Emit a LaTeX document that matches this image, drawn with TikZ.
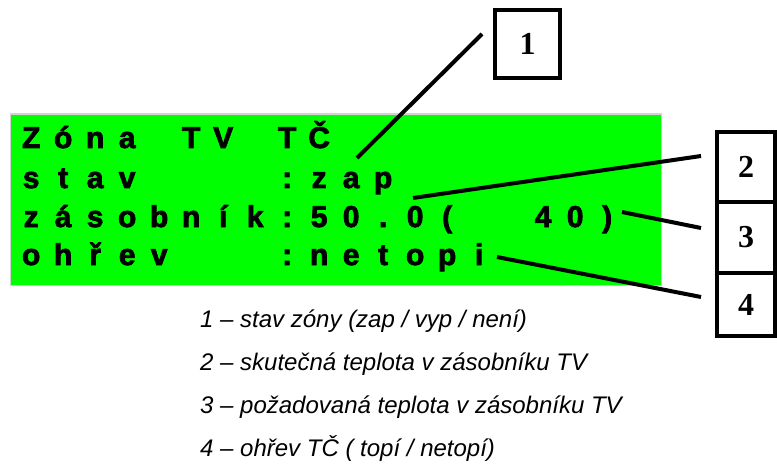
\documentclass[tikz,border=0pt]{standalone}
\usepackage{fontspec}
\setmainfont{Liberation Serif}
\newfontfamily\lcdfont{Liberation Sans}[FakeBold=2.5]
\newfontfamily\legfont{Liberation Sans}
\definecolor{lcdgreen}{RGB}{0,255,0}
\def\lcdrow#1{\lcdloop#1\relax}
\def\lcdloop#1{\ifx#1\relax\else\makebox[32pt]{#1}\expandafter\lcdloop\fi}
\begin{document}
\begin{tikzpicture}[x=1pt,y=-1pt,
  lcdtext/.style={anchor=base west,inner sep=0pt,font=\lcdfont\fontsize{30}{30}\selectfont\bfseries},
  numbox/.style={draw,line width=4pt,inner sep=0pt,font=\fontsize{32}{32}\selectfont\bfseries},
  pointer/.style={line width=4pt},
  legend/.style={anchor=base west,inner sep=0pt,font=\legfont\fontsize{24}{24}\selectfont\itshape}]
\useasboundingbox (0,0) rectangle (777,468);
\fill[white] (0,0) rectangle (777,468);
% display
\node[draw=gray!35,line width=1.2pt,fill=lcdgreen,minimum width=651,minimum height=171,inner sep=0pt,anchor=north west] (lcd) at (10,113.5) {};
\node[lcdtext] (r1) at (15,148) {\lcdrow{Zóna~TV~TČ}};
\node[lcdtext] (r2) at (15,188) {\lcdrow{stav~~~~:zap}};
\node[lcdtext] (r3) at (15,227) {\lcdrow{zásobník:50.0(~~40)}};
\node[lcdtext] (r4) at (15,265) {\lcdrow{ohřev~~~:netopi}};
% number boxes
\node[numbox,minimum width=65,minimum height=68] (b1) at (527.5,44) {1};
\node[numbox,minimum width=58,minimum height=70] (b2) at (746,167) {2};
\node[numbox,minimum width=58,minimum height=71] (b3) at (746,237.5) {3};
\node[numbox,minimum width=58,minimum height=63] (b4) at (746,304.5) {4};
% pointer ends
\coordinate (p1a) at (357,158);
\coordinate (p1b) at (482,34);
\coordinate (p2a) at (413,198);
\coordinate (p2b) at (701,156);
\coordinate (p3a) at (622,212);
\coordinate (p3b) at (701,228);
\coordinate (p4a) at (497,257);
\coordinate (p4b) at (701,297);
\draw[pointer] (p1a) -- (p1b);
\draw[pointer] (p2a) -- (p2b);
\draw[pointer] (p3a) -- (p3b);
\draw[pointer] (p4a) -- (p4b);
% legend
\node[legend] (l1) at (200,327) {1 – stav zóny (zap / vyp / není)};
\node[legend] (l2) at (200,370) {2 – skutečná teplota v zásobníku TV};
\node[legend] (l3) at (200,413) {3 – požadovaná teplota v zásobníku TV};
\node[legend] (l4) at (200,456) {4 – ohřev TČ ( topí / netopí)};
\end{tikzpicture}
\end{document}
